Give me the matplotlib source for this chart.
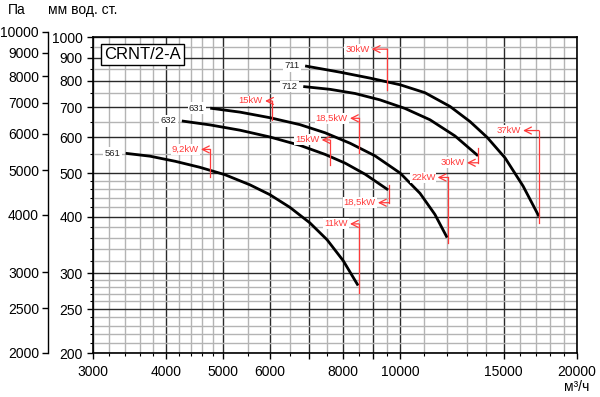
import matplotlib
matplotlib.use('Agg')
import matplotlib.pyplot as plt
from matplotlib.ticker import FixedLocator, FixedFormatter, NullFormatter
from matplotlib.transforms import offset_copy

plt.rcParams['font.family'] = ['Liberation Sans', 'DejaVu Sans']

# ---------------- data ----------------
curve_names = ['561', '632', '631', '712', '711']
flow_561 = [3410, 3750, 4140, 4560, 5030, 5550, 6000, 6490, 7020, 7510, 8000, 8480]
pres_561 = [553, 545, 531, 515, 496, 471, 448, 420, 388, 356, 320, 282]
flow_632 = [4250, 4750, 5340, 6000, 6750, 7450, 8060, 8720, 9540]
pres_632 = [652, 639, 622, 601, 576, 550, 526, 497, 459]
flow_631 = [4750, 5340, 6000, 6750, 7450, 8220, 9060, 10000, 10810, 11460, 12020]
pres_631 = [696, 682, 663, 640, 614, 582, 546, 500, 451, 405, 360]
flow_712 = [6840, 7600, 8380, 9240, 10190, 11240, 12400, 13570]
pres_712 = [777, 766, 750, 726, 695, 656, 604, 546]
flow_711 = [6890, 7900, 8890, 10000, 11020, 12160, 13150, 14060, 15090, 16190, 17230]
pres_711 = [863, 836, 811, 784, 753, 702, 650, 600, 540, 468, 401]

# power annotations: text, flow of marker line, pressure at label, pressure at line end
ann_text = ['9,2kW', '11kW', '15kW', '18,5kW', '15kW', '18,5kW', '22kW', '30kW', '30kW', '37kW']
ann_flow = [4745, 8509, 7595, 9573, 6051, 8509, 12063, 9498, 13570, 17234]
ann_top = [564, 386, 592, 430, 722, 661, 489, 940, 527, 621]
ann_end = [491, 272, 521, 471, 656, 553, 350, 764, 568, 387]

x_major = [3000, 4000, 5000, 6000, 7000, 8000, 9000, 10000, 15000, 20000]
x_labels = ['3000', '4000', '5000', '6000', '', '8000', '', '10000', '15000', '20000']
x_minor = [3200, 3400, 3600, 3800, 4200, 4400, 4600, 4800, 5500, 6500, 7500,
           8500, 9500, 11000, 12000, 13000, 14000, 16000, 17000, 18000, 19000]
y_major = [200, 250, 300, 400, 500, 600, 700, 800, 900, 1000]
y_labels = ['200', '250', '300', '400', '500', '600', '700', '800', '900', '1000']
y_minor = [210, 220, 230, 240, 260, 270, 280, 290, 320, 340, 360, 380,
           420, 440, 460, 480, 550, 650, 750, 850, 950]
pa_ticks = [2000, 2500, 3000, 4000, 5000, 6000, 7000, 8000, 9000, 10000]
pa_labels = ['2000', '2500', '3000', '4000', '5000', '6000', '7000', '8000', '9000', '10000']

# ---------------- layout ----------------
W, H = 600, 397
ann_arm = [6.5, 6.5, 6.0, 8.0, 5.0, 6.5, 7.5, 11.0, 8.0, 11.5]  # points
RED = '#ff3b3b'

fig = plt.figure(figsize=(6, 3.97), dpi=100)
L, R, T, B = 93, 577, 37, 353
ax = fig.add_axes([L / W, 1 - B / H, (R - L) / W, (B - T) / H])
ax.set_xscale('log')
ax.set_yscale('log')
ax.set_xlim(3000, 20000)
ax.set_ylim(200, 1000)

ax.xaxis.set_major_locator(FixedLocator(x_major))
ax.xaxis.set_major_formatter(FixedFormatter(x_labels))
ax.xaxis.set_minor_locator(FixedLocator(x_minor))
ax.xaxis.set_minor_formatter(NullFormatter())
ax.yaxis.set_major_locator(FixedLocator(y_major))
ax.yaxis.set_major_formatter(FixedFormatter(y_labels))
ax.yaxis.set_minor_locator(FixedLocator(y_minor))
ax.yaxis.set_minor_formatter(NullFormatter())

ax.tick_params(which='major', direction='out', length=4.5, width=1, labelsize=10, color='black')
ax.tick_params(which='minor', direction='out', length=2.5, width=0.8, color='black')
ax.tick_params(axis='x', which='major', pad=4)
ax.tick_params(axis='y', which='major', pad=3)
ax.grid(which='major', color='#2a2a2a', lw=1.0)
ax.grid(which='minor', color='#b4b4b4', lw=1.0)
ax.set_axisbelow(True)
for s in ax.spines.values():
    s.set_linewidth(1.2)
    s.set_color('black')

# curves
curves = [(flow_561, pres_561), (flow_632, pres_632), (flow_631, pres_631),
          (flow_712, pres_712), (flow_711, pres_711)]
for name, (fl, pr) in zip(curve_names, curves):
    ax.plot(fl, pr, color='black', lw=2.0, zorder=3, solid_capstyle='butt',
            solid_joinstyle='round')
    tr = offset_copy(ax.transData, fig=fig, x=-4, y=0, units='points')
    ax.text(fl[0], pr[0], name, transform=tr, ha='right', va='center', fontsize=6.8,
            color='#222222', zorder=5,
            bbox=dict(boxstyle='square,pad=0.15', fc='white', ec='none'))

# power annotations
for txt, fl, top, end, arm in zip(ann_text, ann_flow, ann_top, ann_end, ann_arm):
    ax.plot([fl, fl], [top, end], color=RED, lw=0.9, zorder=4)
    tip = offset_copy(ax.transData, fig=fig, x=-arm, y=0, units='points')
    ax.annotate('', xy=(fl, top), xycoords=tip, xytext=(fl, top), textcoords='data',
                arrowprops=dict(arrowstyle='->,head_length=0.5,head_width=0.25', color=RED,
                                lw=0.9, shrinkA=0, shrinkB=0), zorder=4)
    ttr = offset_copy(ax.transData, fig=fig, x=-arm - 1.5, y=0, units='points')
    ax.text(fl, top, txt, transform=ttr, ha='right', va='center', fontsize=6.8,
            color=RED, zorder=5,
            bbox=dict(boxstyle='square,pad=0.1', fc='white', ec='none'))

# model box
fig.text(142.5 / W, 1 - 54.5 / H, 'CRNT/2-A', ha='center', va='center', fontsize=12,
         bbox=dict(boxstyle='square,pad=0.2', fc='white', ec='black', lw=1.0), zorder=6)

# Pa axis
pax = fig.add_axes([48 / W, 1 - 353 / H, 0.0001, (353 - 31.7) / H])
pax.set_yscale('log')
pax.set_ylim(2000, 10000)
pax.yaxis.set_major_locator(FixedLocator(pa_ticks))
pax.yaxis.set_major_formatter(FixedFormatter(pa_labels))
pax.yaxis.set_minor_locator(FixedLocator([]))
pax.set_xticks([])
pax.patch.set_visible(False)
for k in ['top', 'right', 'bottom']:
    pax.spines[k].set_visible(False)
pax.spines['left'].set_linewidth(1.0)
pax.tick_params(axis='y', which='major', direction='out', length=4, width=1, labelsize=10, pad=2.5)

# axis titles
fig.text(8 / W, 1 - 10 / H, 'Па', ha='left', va='center', fontsize=10)
fig.text(48 / W, 1 - 10 / H, 'мм вод. ст.', ha='left', va='center', fontsize=10)
fig.text(577 / W, 1 - 387 / H, 'м³/ч', ha='center', va='center', fontsize=10)

fig.savefig('out.png', dpi=100)
